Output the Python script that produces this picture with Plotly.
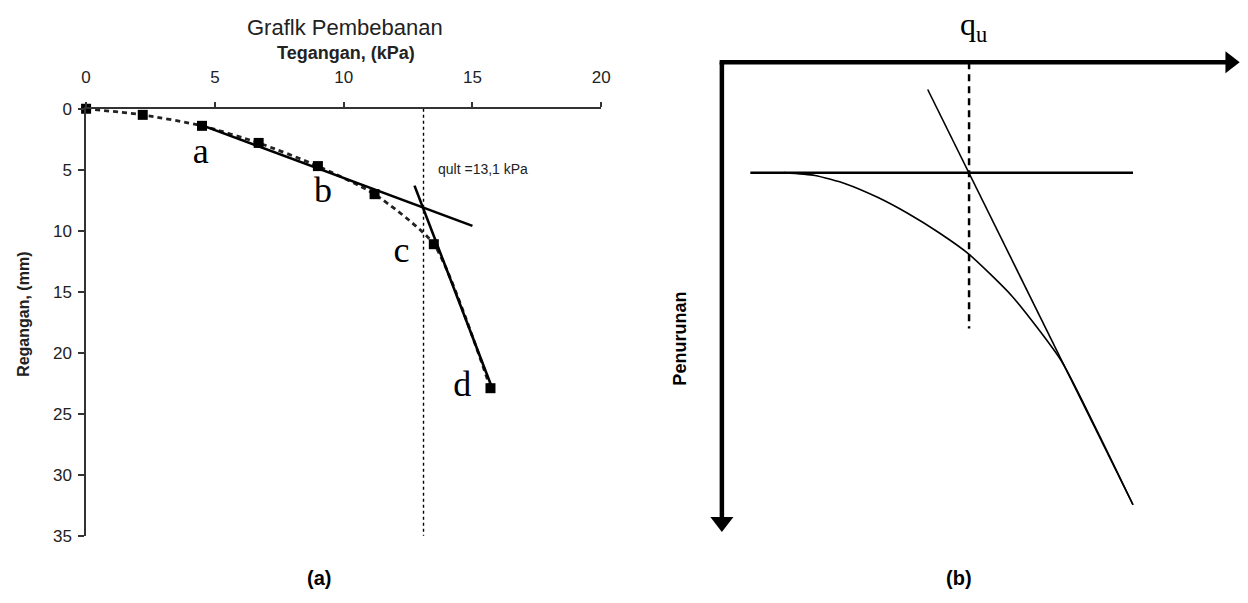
import plotly.graph_objects as go

W, H = 1248, 603

# ---------------- (a) load test data ----------------
stress_kpa = [0, 2.2, 4.5, 6.7, 9.0, 11.2, 13.5, 15.7]
strain_mm = [0, 0.5, 1.4, 2.8, 4.7, 7.0, 11.1, 22.9]
tangent1_x = [4.3, 15.0]
tangent1_y = [1.2, 9.6]
tangent2_x = [12.75, 15.75]
tangent2_y = [6.3, 22.8]
q_ult = 13.1
q_ult_y = [0, 35.2]
x_ticks = [0, 5, 10, 15, 20]
y_ticks = [0, 5, 10, 15, 20, 25, 30, 35]
point_labels = ["a", "b", "c", "d"]
point_label_x = [4.45, 9.2, 12.25, 14.6]
point_label_y = [3.7, 6.9, 11.8, 22.8]

# ---------------- (b) schematic ----------------
curve_q = [12.0, 18.0, 24.0, 30.0, 36.0, 42.0, 47.7, 56.2, 65.6, 72.3, 79.5]
curve_s = [23.5, 24.1, 25.9, 28.7, 32.2, 36.3, 40.8, 49.9, 63.5, 77.9, 94.2]
tangent_q = [39.8, 79.5]
tangent_s = [5.8, 94.2]
hline_q = [5.5, 79.5]
hline_s = [23.5, 23.5]
qu_q = 47.8
qu_s = [0, 56.7]
axis_top_q = [98, 0]
axis_top_s = [0, 0]
axis_left_q = [0, 0]
axis_left_s = [0, 97]

def px_x(p):
    return p / W

def px_y(p):
    return 1 - p / H

fig = go.Figure()

# ---- panel (a) ----
fig.add_trace(go.Scatter(x=stress_kpa, y=strain_mm, mode="lines+markers",
                         line=dict(color="#222222", width=2.8, dash="5px,4px", shape="spline", smoothing=0.6),
                         marker=dict(symbol="square", size=10, color="black"),
                         cliponaxis=False, xaxis="x", yaxis="y", showlegend=False))
fig.add_trace(go.Scatter(x=tangent1_x, y=tangent1_y, mode="lines",
                         line=dict(color="black", width=2.6), xaxis="x", yaxis="y", showlegend=False))
fig.add_trace(go.Scatter(x=tangent2_x, y=tangent2_y, mode="lines",
                         line=dict(color="black", width=2.6), xaxis="x", yaxis="y", showlegend=False))
fig.add_trace(go.Scatter(x=[q_ult, q_ult], y=q_ult_y, mode="lines",
                         line=dict(color="black", width=1.4, dash="3px,3px"), cliponaxis=False,
                         xaxis="x", yaxis="y", showlegend=False))
fig.add_trace(go.Scatter(x=point_label_x, y=point_label_y, mode="text", text=point_labels,
                         textfont=dict(family="Liberation Serif", size=36, color="black"),
                         xaxis="x", yaxis="y", showlegend=False))

# ---- panel (b) ----
fig.add_trace(go.Scatter(x=curve_q, y=curve_s, mode="lines",
                         line=dict(color="black", width=1.6, shape="spline", smoothing=0.6),
                         xaxis="x2", yaxis="y2", showlegend=False))
fig.add_trace(go.Scatter(x=tangent_q, y=tangent_s, mode="lines",
                         line=dict(color="black", width=1.6), xaxis="x2", yaxis="y2", showlegend=False))
fig.add_trace(go.Scatter(x=hline_q, y=hline_s, mode="lines",
                         line=dict(color="black", width=2.5), xaxis="x2", yaxis="y2", showlegend=False))
fig.add_trace(go.Scatter(x=[qu_q, qu_q], y=qu_s, mode="lines",
                         line=dict(color="black", width=2.5, dash="7px,5px"), xaxis="x2", yaxis="y2", showlegend=False))
fig.add_trace(go.Scatter(x=axis_top_q, y=axis_top_s, mode="lines",
                         line=dict(color="black", width=4.5), xaxis="x2", yaxis="y2", showlegend=False))
fig.add_trace(go.Scatter(x=axis_left_q, y=axis_left_s, mode="lines",
                         line=dict(color="black", width=4.5), xaxis="x2", yaxis="y2", showlegend=False))
fig.add_trace(go.Scatter(x=[0], y=[0], mode="markers",
                         marker=dict(symbol="square", size=4.5, color="black"),
                         xaxis="x2", yaxis="y2", showlegend=False))
fig.add_trace(go.Scatter(x=[axis_top_q[0] + 0.3], y=[axis_top_s[0]], mode="markers",
                         marker=dict(symbol="triangle-right", size=19, color="black"), cliponaxis=False,
                         xaxis="x2", yaxis="y2", showlegend=False))
fig.add_trace(go.Scatter(x=[axis_left_q[1]], y=[axis_left_s[1] + 0.9], mode="markers",
                         marker=dict(symbol="triangle-down", size=20, color="black"), cliponaxis=False,
                         xaxis="x2", yaxis="y2", showlegend=False))

axis_font = dict(family="Liberation Sans", size=17, color="#222222")

fig.update_layout(
    width=W, height=H,
    margin=dict(l=0, r=0, t=0, b=0),
    paper_bgcolor="white", plot_bgcolor="white",
    font=dict(family="Liberation Sans", color="black"),
    xaxis=dict(domain=[px_x(82), px_x(603)], range=[0, 20], side="top", anchor="y",
               tickvals=x_ticks, ticks="outside", ticklen=5, tickwidth=1.5, tickcolor="#333333",
               showline=True, linecolor="#333333", linewidth=1.5, showgrid=False, zeroline=False,
               tickfont=axis_font, ticklabelstandoff=12),
    yaxis=dict(domain=[px_y(544), px_y(103)], range=[35, 0], anchor="x",
               tickvals=y_ticks, ticks="outside", ticklen=6, tickwidth=1.5, tickcolor="#333333",
               showline=True, linecolor="#333333", linewidth=1.5, showgrid=False, zeroline=False,
               tickfont=axis_font, ticklabelstandoff=3),
    xaxis2=dict(domain=[px_x(704.1), 1.0], range=[-4, 100], anchor="y2",
                visible=False),
    yaxis2=dict(domain=[px_y(559.4), px_y(35.6)], range=[104, -4], anchor="x2",
                visible=False),
    annotations=[
        dict(text="Graflk Pembebanan", x=px_x(344), y=px_y(19), xref="paper", yref="paper",
             showarrow=False, font=dict(family="Liberation Sans", size=22, color="#222222"),
             xanchor="center", yanchor="middle"),
        dict(text="<b>Tegangan, (kPa)</b>", x=px_x(345), y=px_y(45), xref="paper", yref="paper",
             showarrow=False, font=dict(family="Liberation Sans", size=18, color="#222222"),
             xanchor="center", yanchor="middle"),
        dict(text="<b>Regangan, (mm)</b>", x=px_x(18), y=px_y(315), xref="paper", yref="paper",
             showarrow=False, textangle=-90, font=dict(family="Liberation Sans", size=16, color="#222222"),
             xanchor="center", yanchor="middle"),
        dict(text="qult =13,1 kPa", x=13.6, y=4.92, xref="x", yref="y",
             showarrow=False, font=dict(family="Liberation Sans", size=14, color="#222222"),
             xanchor="left", yanchor="middle"),
        dict(text="<b>(a)</b>", x=px_x(318), y=px_y(588), xref="paper", yref="paper",
             showarrow=False, font=dict(family="Liberation Sans", size=20, color="black"),
             xanchor="center", yanchor="middle"),
        dict(text="<b>(b)</b>", x=px_x(965), y=px_y(588), xref="paper", yref="paper",
             showarrow=False, font=dict(family="Liberation Sans", size=20, color="black"),
             xanchor="center", yanchor="middle"),
        dict(text="<b>Penurunan</b>", x=px_x(683), y=px_y(340), xref="paper", yref="paper",
             showarrow=False, textangle=-90, font=dict(family="Liberation Sans", size=18, color="black"),
             xanchor="center", yanchor="middle"),
        dict(text="q<sub>u</sub>", x=px_x(979), y=px_y(18), xref="paper", yref="paper",
             showarrow=False, font=dict(family="Liberation Serif", size=32, color="black"),
             xanchor="center", yanchor="middle"),
    ],
)

fig.write_html("out.html",
               config={"displayModeBar": False},
               post_script="document.body.style.margin='0';document.body.style.overflow='hidden';")
